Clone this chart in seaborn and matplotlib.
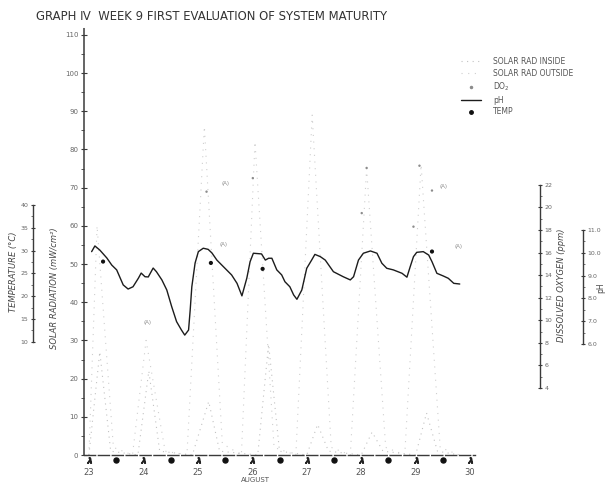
import seaborn as sns
import matplotlib.pyplot as plt
from matplotlib.lines import Line2D

# ---- data (day of August) ----
ph_day = [23.05, 23.11, 23.20, 23.33, 23.42, 23.51, 23.63, 23.72, 23.81, 23.91,
          23.96, 24.03, 24.09, 24.18, 24.24, 24.34, 24.43, 24.52, 24.61, 24.70,
          24.76, 24.83, 24.86, 24.89, 24.95, 25.01, 25.10, 25.19, 25.26, 25.35,
          25.47, 25.62, 25.72, 25.81, 25.90, 25.96, 26.02, 26.17, 26.24, 26.30,
          26.36, 26.45, 26.54, 26.60, 26.69, 26.76, 26.82, 26.91, 27.00, 27.09,
          27.15, 27.25, 27.34, 27.49, 27.67, 27.80, 27.86, 27.95, 28.04, 28.17,
          28.29, 28.38, 28.47, 28.59, 28.75, 28.84, 28.90, 28.96, 29.02, 29.14,
          29.24, 29.30, 29.39, 29.51, 29.60, 29.70, 29.81]
ph_val = [10.05, 10.30, 10.12, 9.77, 9.46, 9.25, 8.59, 8.41, 8.51, 8.89,
          9.11, 8.95, 8.94, 9.33, 9.17, 8.81, 8.37, 7.64, 6.98, 6.61,
          6.39, 6.61, 7.49, 8.51, 9.55, 10.05, 10.20, 10.15, 9.99, 9.68,
          9.39, 9.03, 8.66, 8.11, 8.89, 9.61, 9.98, 9.95, 9.68, 9.76,
          9.76, 9.25, 9.03, 8.73, 8.51, 8.15, 7.96, 8.37, 9.32, 9.68,
          9.93, 9.83, 9.68, 9.17, 8.95, 8.81, 8.95, 9.68, 9.98, 10.08,
          9.98, 9.54, 9.32, 9.25, 9.10, 8.93, 9.39, 9.83, 10.02, 10.05,
          9.90, 9.61, 9.10, 8.98, 8.88, 8.66, 8.63]

temp_day = [23.26, 25.24, 26.19, 29.30]
temp_val = [27.6, 27.3, 26.0, 29.8]

solar_out_day = [23.0, 23.15, 23.45, 23.8, 24.05, 24.4, 24.8, 25.12, 25.45, 25.8,
                 26.05, 26.4, 26.8, 27.1, 27.45, 27.8, 28.1, 28.45, 28.8, 29.1, 29.45, 29.8]
solar_out_val = [0, 60, 2, 0, 30, 1, 0, 86, 3, 0,
                 82, 2, 0, 89, 2, 0, 75, 2, 0, 76, 2, 0]
solar_in_day = [23.0, 23.2, 23.4, 23.9, 24.1, 24.3, 24.9, 25.2, 25.4, 26.1,
                26.3, 26.5, 27.0, 27.2, 27.4, 28.0, 28.2, 28.4, 29.0, 29.2, 29.4, 29.8]
solar_in_val = [0, 27, 1, 0, 22, 1, 0, 14, 1, 0,
                29, 1, 0, 8, 1, 0, 6, 1, 0, 11, 1, 0]

do_day = [25.16, 26.01, 28.01, 28.10, 28.96, 29.07, 29.30]
do_val = [21.4, 22.6, 19.5, 23.5, 18.3, 23.7, 21.5]

day_ticks = [23, 24, 25, 26, 27, 28, 29, 30]
day_labels = ["23", "24", "25", "26", "27", "28", "29", "30"]
night_marks = [23.5, 24.5, 25.5, 26.5, 27.5, 28.5, 29.5]

note_day = [25.50, 25.47, 24.08, 29.51, 29.78]
note_val = [71.2, 55.2, 34.6, 70.2, 54.7]

solar_ticks = list(range(0, 111, 10))
temp_ticks = [10, 15, 20, 25, 30, 35, 40]
do_ticks = list(range(4, 23, 2))
ph_ticks = [6, 7, 8, 9, 10, 11]

ink = "#3a3a3a"
sns.set_theme(style="white")
plt.rcParams["font.family"] = ["DejaVu Sans"]

fig = plt.figure(figsize=(6.06, 4.86), dpi=100)
ax = fig.add_axes([84 / 606, 1 - 455 / 486, 391 / 606, 427 / 486])

# solar radiation (main axis) - very faint in the scan
sns.lineplot(x=solar_out_day, y=solar_out_val, ax=ax, color="#cfcfcf",
             lw=0.8, ls=(0, (1, 5)), sort=False, estimator=None)
sns.lineplot(x=solar_in_day, y=solar_in_val, ax=ax, color="#c2c2c2",
             lw=0.8, ls=(0, (1, 4)), sort=False, estimator=None)
ax.set_xlim(22.91, 30.09)
ax.set_ylim(0, 111.8)
ax.set_yticks(solar_ticks)
ax.set_yticklabels([str(v) for v in solar_ticks])
ax.set_yticks([v + 5 for v in solar_ticks[:-1]], minor=True)
ax.set_xticks(day_ticks)
ax.set_xticklabels(day_labels)
ax.tick_params(axis="y", which="major", length=4, width=0.8, color=ink,
               labelsize=5, labelcolor="#666", pad=2, direction="inout")
ax.tick_params(axis="y", which="minor", length=2, width=0.6, color=ink, left=True)
ax.tick_params(axis="x", length=0, labelsize=6, labelcolor="#555", pad=9)
for s in ["top", "right"]:
    ax.spines[s].set_visible(False)
ax.spines["left"].set_color(ink)
ax.spines["left"].set_linewidth(1.1)
ax.spines["left"].set_linestyle((0, (6, 1)))
ax.spines["bottom"].set_color(ink)
ax.spines["bottom"].set_linewidth(1.0)
ax.spines["bottom"].set_linestyle((0, (8, 2)))
ax.set_xlabel("")
ax.set_ylabel("")

for d, v in zip(note_day, note_val):
    ax.text(d, v, "(A)", fontsize=4, color="#8a8a8a", ha="center", va="center")

# day / night symbols under the time axis
xt = ax.get_xaxis_transform()
ax.plot(day_ticks, [-0.012] * len(day_ticks), ls="none", marker=r"$\lambda$",
        ms=4, color="#222", transform=xt, clip_on=False)
ax.plot(night_marks, [-0.012] * len(night_marks), ls="none", marker="o",
        ms=3.6, color="#111", transform=xt, clip_on=False)


def make_twin(pos, side, lim, ticks, labels, bounds):
    t = ax.twinx()
    for s in t.spines.values():
        s.set_visible(False)
    sp = t.spines[side]
    sp.set_visible(True)
    sp.set_position(("axes", pos))
    sp.set_bounds(*bounds)
    sp.set_color(ink)
    sp.set_linewidth(1.0)
    if side == "left":
        t.yaxis.tick_left()
    else:
        t.yaxis.tick_right()
    t.set_ylim(*lim)
    t.set_yticks(ticks)
    t.set_yticklabels(labels)
    step = ticks[1] - ticks[0]
    t.set_yticks([v + step / 2 for v in ticks[:-1]], minor=True)
    t.tick_params(axis="y", which="major", length=3, width=0.8, color=ink,
                  labelsize=4.5, labelcolor="#666", pad=2, direction="inout")
    t.tick_params(axis="y", which="minor", length=1.5, width=0.5, color=ink)
    return t


axT = make_twin(-0.1304, "left", (-14.8, 78.8), temp_ticks,
                [str(v) for v in temp_ticks], (10, 40))
axD = make_twin(1.166, "right", (-1.93, 35.9), do_ticks,
                [str(v) for v in do_ticks], (4, 22))
axP = make_twin(1.276, "right", (1.13, 19.86), ph_ticks,
                [f"{v}.0" for v in ph_ticks], (6, 11))

sns.scatterplot(x=do_day, y=do_val, ax=axD, color="#8c8c8c", s=3,
                edgecolor="none", legend=False)
sns.lineplot(x=ph_day, y=ph_val, ax=axP, color="#1c1c1c", lw=1.0,
             sort=False, estimator=None)
sns.scatterplot(x=temp_day, y=temp_val, ax=axT, color="#111", s=9,
                edgecolor="none", legend=False)
for t in (axT, axD, axP):
    t.set_ylabel("")

# axis titles
lab = dict(fontsize=6, color="#444", style="italic", rotation=90,
           ha="center", va="center")
fig.text(14 / 606, 1 - 272 / 486, "TEMPERATURE (°C)", **lab)
fig.text(55 / 606, 1 - 288 / 486, "SOLAR RADIATION (mW/cm²)", **lab)
fig.text(561 / 606, 1 - 285 / 486, "DISSOLVED OXYGEN (ppm)", **lab)
fig.text(601 / 606, 1 - 288 / 486, "pH", fontsize=5.5, color="#444",
         rotation=90, ha="center", va="center")
fig.text(255 / 606, 1 - 480 / 486, "AUGUST", fontsize=5, color="#555",
         ha="center", va="center")

fig.text(36 / 606, 1 - 17 / 486,
         "GRAPH Ⅳ  WEEK 9 FIRST EVALUATION OF SYSTEM MATURITY",
         fontsize=8.4, color="#333", ha="left", va="center")

handles = [
    Line2D([], [], color="#c2c2c2", lw=0.8, ls=(0, (1, 4))),
    Line2D([], [], color="#cfcfcf", lw=0.8, ls=(0, (1, 5))),
    Line2D([], [], color="#8c8c8c", ls="none", marker="o", ms=1.5),
    Line2D([], [], color="#1c1c1c", lw=1.0),
    Line2D([], [], color="#111", ls="none", marker="o", ms=2.5),
]
labels = ["SOLAR RAD INSIDE", "SOLAR RAD OUTSIDE", "DO$_2$", "pH", "TEMP"]
leg = fig.legend(handles, labels, loc="upper left",
                 bbox_to_anchor=(458 / 606, 1 - 54 / 486), frameon=False,
                 fontsize=5.5, handlelength=2.6, handletextpad=1.6,
                 labelspacing=0.35, borderaxespad=0)
for txt in leg.get_texts():
    txt.set_color("#555")

fig.savefig("out.png", dpi=100)
